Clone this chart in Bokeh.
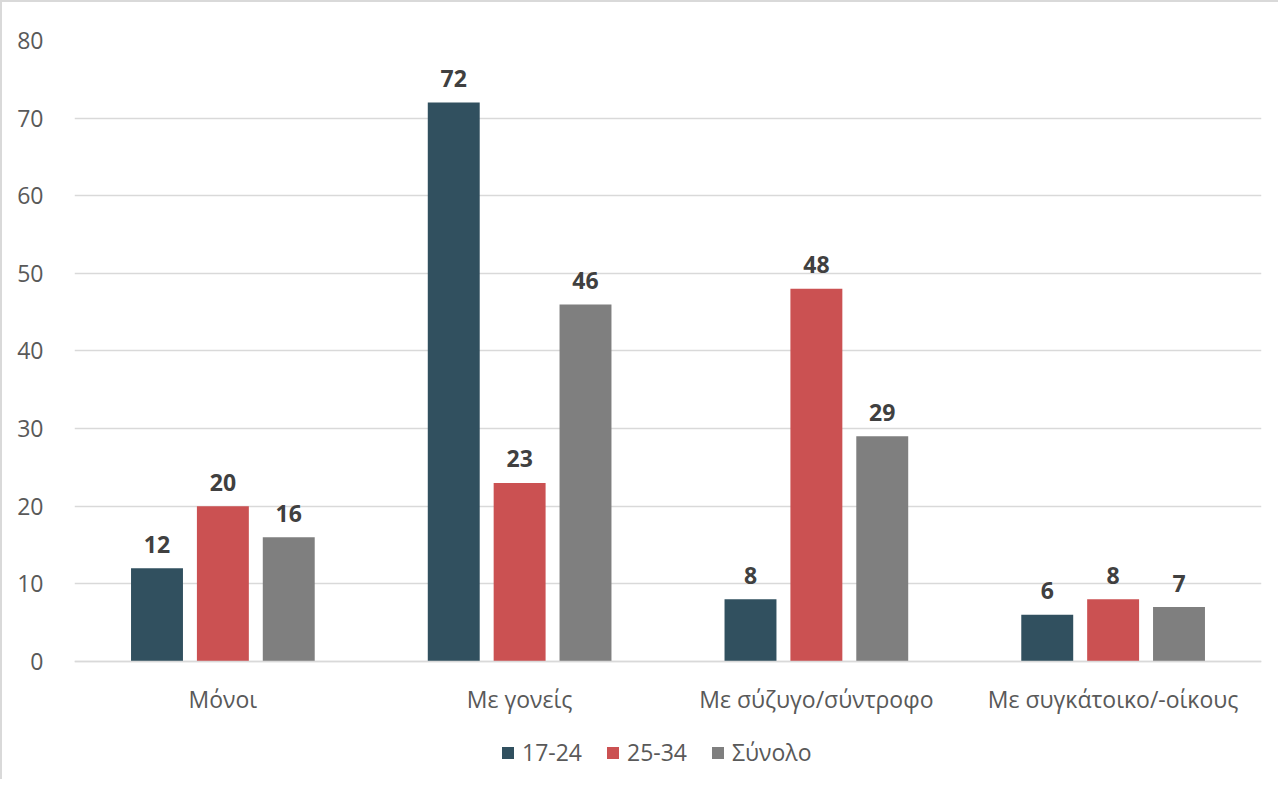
from bokeh.plotting import figure
from bokeh.models import ColumnDataSource, Legend, LegendItem, Range1d, FactorRange, FixedTicker
from bokeh.transform import dodge
from bokeh.embed import file_html
from bokeh.resources import INLINE
from bokeh.core.properties import value

categories = ["Μόνοι", "Με γονείς", "Με σύζυγο/σύντροφο", "Με συγκάτοικο/-οίκους"]
series_names = ["17-24", "25-34", "Σύνολο"]
v_17_24 = [12, 72, 8, 6]
v_25_34 = [20, 23, 48, 8]
v_total = [16, 46, 29, 7]
y_ticks = [0, 10, 20, 30, 40, 50, 60, 70, 80]
colors = ["#31505F", "#CB5152", "#7F7F7F"]

FONT = "Open Sans"

# the frame extends below zero to host the category labels and the legend
Y_MIN, Y_MAX = -14.7, 80
PX_PER_UNIT = 621 / 80
frame_h = round((Y_MAX - Y_MIN) * PX_PER_UNIT)

p = figure(x_range=FactorRange(*categories), y_range=Range1d(Y_MIN, Y_MAX),
           frame_width=1187, frame_height=frame_h, output_backend="svg", toolbar_location=None,
           min_border_left=72, min_border_right=17, min_border_top=38, min_border_bottom=4,
           styles={"border-top": "2px solid #d9d9d9", "border-left": "2px solid #d9d9d9"})
p.outline_line_color = None
p.background_fill_color = "white"

offsets = [-0.222, 0.0, 0.222]
series_vals = [v_17_24, v_25_34, v_total]
renderers = []
for name, vals, off, col in zip(series_names, series_vals, offsets, colors):
    src = ColumnDataSource(dict(cat=categories, val=vals, lab=[str(v) for v in vals]))
    r = p.vbar(x=dodge("cat", off, range=p.x_range), top="val", width=0.175, bottom=0,
               source=src, fill_color=col, line_color=None)
    renderers.append((name, r))
    p.text(x=dodge("cat", off, range=p.x_range), y="val", text="lab", source=src,
           text_font=value(FONT), text_font_style="bold", text_font_size="23px",
           text_color="#404040", text_align="center", text_baseline="alphabetic",
           y_offset=-24)

# axes
p.yaxis.ticker = FixedTicker(ticks=y_ticks)
p.yaxis.axis_line_color = None
p.yaxis.major_tick_line_color = None
p.yaxis.minor_tick_line_color = None
p.yaxis.major_label_text_font = FONT
p.yaxis.major_label_text_font_size = "23px"
p.yaxis.major_label_text_color = "#595959"
p.yaxis.major_label_standoff = 25

p.xaxis.fixed_location = 0
p.xaxis.axis_line_color = "#d9d9d9"
p.xaxis.axis_line_width = 1.5
p.xaxis.major_tick_line_color = None
p.xaxis.minor_tick_line_color = None
p.xaxis.major_label_text_font = FONT
p.xaxis.major_label_text_font_size = "23px"
p.xaxis.major_label_text_color = "#595959"
p.xaxis.major_label_standoff = 16

p.xgrid.grid_line_color = None
p.ygrid.grid_line_color = "#d9d9d9"
p.ygrid.grid_line_width = 1.5

legend = Legend(items=[LegendItem(label=n, renderers=[r]) for n, r in renderers],
                orientation="horizontal", location=(426, 7),
                glyph_width=15, glyph_height=15, label_standoff=7, spacing=23,
                padding=0, margin=0, border_line_color=None, background_fill_alpha=0,
                label_text_font=FONT, label_text_font_size="23px", label_text_color="#595959")
p.add_layout(legend)

open("out.html", "w").write(file_html(p, INLINE))
